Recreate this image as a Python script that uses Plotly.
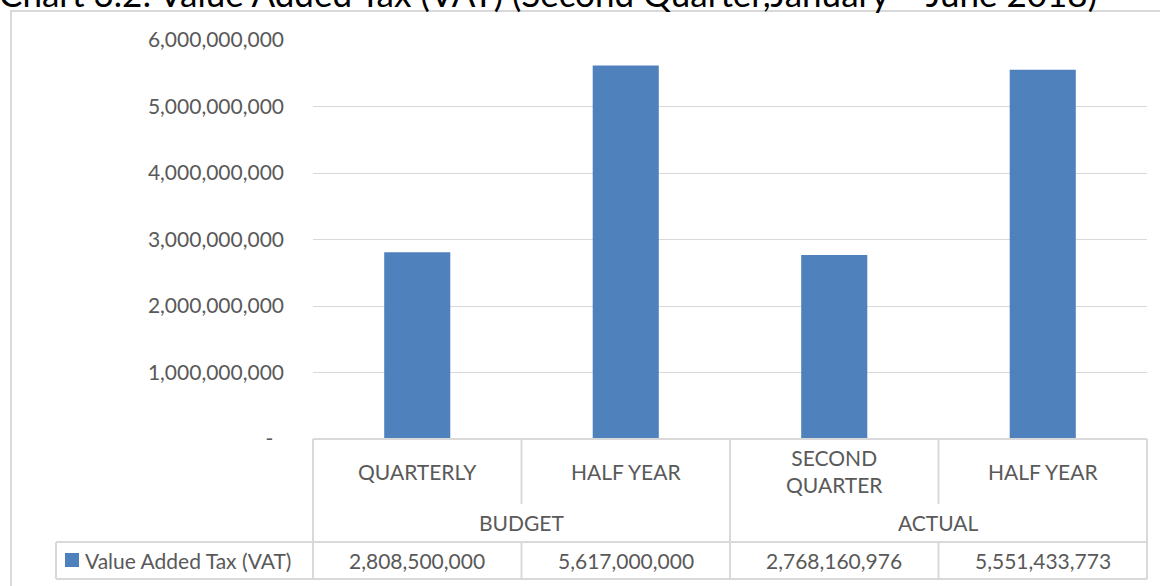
import plotly.graph_objects as go

# Data
groups = ["BUDGET", "ACTUAL"]
periods = ["QUARTERLY", "HALF YEAR", "SECOND<br>QUARTER", "HALF YEAR"]
vat_values = [2808500000, 5617000000, 2768160976, 5551433773]
series_name = "Value Added Tax (VAT)"
y_ticks = [0, 1e9, 2e9, 3e9, 4e9, 5e9, 6e9]
title_text = "Chart 3.2: Value Added Tax (VAT) (Second Quarter,January – June 2018)"

W, H = 1160, 586
L, R, T, B = 313, 1147, 40, 439  # plot area in pixels

BAR = "#4F81BD"
GRID = "#D9D9D9"
TXT = "#595959"
FONT = "Lato"
FS = 21


def px(x):
    return (x - L) / (R - L)


def py(y):
    return (B - y) / (B - T)


def fmt(v):
    return "{:,.0f}".format(v)


x_idx = list(range(len(periods)))

fig = go.Figure()
fig.add_trace(go.Bar(
    x=x_idx, y=vat_values, marker=dict(color=BAR, line=dict(width=0)),
    name=series_name, showlegend=False, hoverinfo="skip",
))

tick_text = ["-\u00a0\u00a0" if v == 0 else fmt(v) for v in y_ticks]

fig.update_layout(
    width=W, height=H,
    margin=dict(l=L, r=W - R, t=T, b=H - B, pad=0),
    paper_bgcolor="white", plot_bgcolor="white",
    bargap=0.683,
    font=dict(family=FONT, size=FS, color=TXT),
    xaxis=dict(range=[-0.5, len(periods) - 0.5], showticklabels=False,
               showgrid=False, zeroline=False, showline=False, fixedrange=True),
    yaxis=dict(range=[0, 6e9], tickvals=y_ticks, ticktext=tick_text,
               showgrid=True, gridcolor=GRID, gridwidth=1, zeroline=False,
               showline=False, ticks="", ticklabelstandoff=28,
               tickfont=dict(family=FONT, size=FS, color=TXT), fixedrange=True),
)

shapes = []


def hline(x0, x1, y):
    shapes.append(dict(type="line", xref="paper", yref="paper",
                       x0=px(x0), x1=px(x1), y0=py(y), y1=py(y),
                       line=dict(color=GRID, width=2)))


def vline(x, y0, y1):
    shapes.append(dict(type="line", xref="paper", yref="paper",
                       x0=px(x), x1=px(x), y0=py(y0), y1=py(y1),
                       line=dict(color=GRID, width=2)))


# outer chart frame
shapes.append(dict(type="rect", xref="paper", yref="paper",
                   x0=px(11), x1=px(1175), y0=py(11), y1=py(600),
                   line=dict(color=GRID, width=2), fillcolor="rgba(0,0,0,0)",
                   layer="below"))

col_w = (R - L) / len(periods)
n_per_group = len(periods) // len(groups)

# data table grid
hline(L, R, B)
hline(56, R, 542)
hline(56, R, 579)
vline(56, 542, 579)
for i in range(len(periods) + 1):
    xx = L + i * col_w
    if i % n_per_group == 0:
        vline(xx, B, 579)
    else:
        vline(xx, B, 504)
        vline(xx, 542, 579)

annotations = []
# category labels
for i, p in enumerate(periods):
    annotations.append(dict(xref="paper", yref="paper", x=px(L + (i + 0.5) * col_w),
                            y=py(471), text=p, showarrow=False,
                            xanchor="center", yanchor="middle",
                            font=dict(family=FONT, size=FS, color=TXT)))
# group labels
for g, name in enumerate(groups):
    annotations.append(dict(xref="paper", yref="paper",
                            x=px(L + (g + 0.5) * n_per_group * col_w),
                            y=py(522), text=name, showarrow=False,
                            xanchor="center", yanchor="middle",
                            font=dict(family=FONT, size=FS, color=TXT)))
# value row
for i, v in enumerate(vat_values):
    annotations.append(dict(xref="paper", yref="paper", x=px(L + (i + 0.5) * col_w),
                            y=py(560), text=fmt(v), showarrow=False,
                            xanchor="center", yanchor="middle",
                            font=dict(family=FONT, size=FS, color=TXT)))
# legend key
shapes.append(dict(type="rect", xref="paper", yref="paper",
                   x0=px(65), x1=px(79), y0=py(553), y1=py(567),
                   line=dict(width=0), fillcolor=BAR))
annotations.append(dict(xref="paper", yref="paper", x=px(83), y=py(560),
                        text=series_name, showarrow=False,
                        xanchor="left", yanchor="middle",
                        font=dict(family=FONT, size=FS, color=TXT)))

# title, running off the top edge of the page
annotations.append(dict(xref="paper", yref="paper", x=px(-3), y=py(16),
                        text=title_text, showarrow=False,
                        xanchor="left", yanchor="bottom",
                        font=dict(family=FONT, size=35, color="#000000")))

fig.update_layout(shapes=shapes, annotations=annotations)

fig.write_html("out.html")
